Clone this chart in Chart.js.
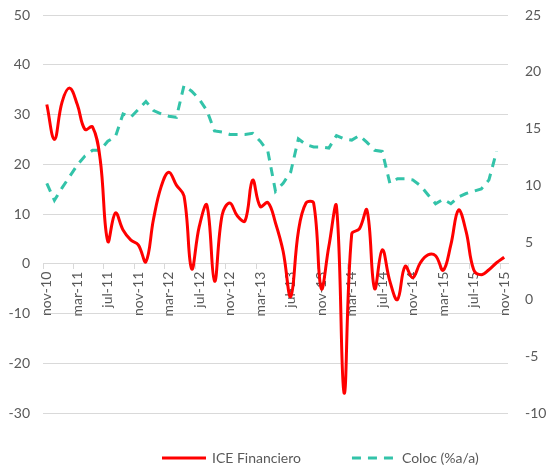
<!DOCTYPE html>
<html>
<head>
<meta charset="utf-8">
<script src="https://cdn.jsdelivr.net/npm/chart.js@4.4.0/dist/chart.umd.min.js"></script>
<style>
  body { margin: 0; background: #fff; }
  #wrap { width: 550px; height: 472px; }
</style>
</head>
<body>
<div id="wrap"><canvas id="chart"></canvas></div>
<script>
const months = [
  "nov-10","dic-10",
  "ene-11","feb-11","mar-11","abr-11","may-11","jun-11","jul-11","ago-11","sep-11","oct-11","nov-11","dic-11",
  "ene-12","feb-12","mar-12","abr-12","may-12","jun-12","jul-12","ago-12","sep-12","oct-12","nov-12","dic-12",
  "ene-13","feb-13","mar-13","abr-13","may-13","jun-13","jul-13","ago-13","sep-13","oct-13","nov-13","dic-13",
  "ene-14","feb-14","mar-14","abr-14","may-14","jun-14","jul-14","ago-14","sep-14","oct-14","nov-14","dic-14",
  "ene-15","feb-15","mar-15","abr-15","may-15","jun-15","jul-15","ago-15","sep-15","oct-15","nov-15"
];

// ICE Financiero (eje izquierdo)
const iceFinanciero = [
  32, 25, 32.5, 35.3, 32, 27, 27.5, 21, 4.5, 10.2,
  6.8, 4.8, 3.8, 0.4, 9, 15.5, 18.4, 15.8, 13.6, -1,
  7.5, 11.8, -3.5, 9.8, 12.2, 9.6, 8.6, 16.8, 11.5, 12.3,
  8.2, 2.5, -6.6, 6.5, 12.2, 12.2, -5, 3.5, 11.5, -26,
  6, 7, 10.8, -5, 2.8, -3.5, -7.2, -0.5, -2.8, 0.2,
  1.8, 1.6, -1.3, 3.8, 10.8, 6.5, -1.2, -2.2, -1.2, 0.2,
  1.3
];

// Coloc (%a/a) (eje derecho)
const coloc = [
  10.2, 8.7, 9.8, 10.8, 11.8, 12.6, 13.1, 13.1, 13.9, 14.3,
  16.3, 16.0, 16.7, 17.4, 16.6, 16.3, 16.1, 16.0, 18.8, 18.3,
  17.6, 16.6, 14.8, 14.7, 14.5, 14.5, 14.5, 14.6, 13.9, 13.0,
  9.5, 10.2, 11.2, 14.1, 13.6, 13.4, 13.4, 13.3, 14.4, 14.1,
  14.0, 14.4, 13.8, 13.1, 13.0, 10.2, 10.6, 10.6, 10.5, 10.0,
  9.2, 8.4, 8.8, 8.4, 9.0, 9.3, 9.5, 9.7, 10.5, 13.0,
  null
];

const grey = "#595959";
const gridGrey = "#d9d9d9";
const clear = "rgba(0,0,0,0)";

Chart.defaults.font.family = "Lato";
Chart.defaults.font.size = 14;
Chart.defaults.color = grey;

// legend drawn as line samples under the plot
const lineLegend = {
  id: "lineLegend",
  afterDraw(chart){
    const ctx = chart.ctx;
    const y = 458;
    let x = 162;
    ctx.save();
    ctx.font = "14px Lato";
    ctx.textBaseline = "middle";
    chart.data.datasets.forEach(ds=>{
      ctx.strokeStyle = ds.borderColor;
      ctx.lineWidth = ds.borderWidth;
      ctx.setLineDash(ds.borderDash || []);
      ctx.beginPath();
      ctx.moveTo(x, y);
      ctx.lineTo(x + 44, y);
      ctx.stroke();
      ctx.setLineDash([]);
      ctx.fillStyle = grey;
      ctx.fillText(ds.label, x + 50, y);
      x += 50 + ctx.measureText(ds.label).width + 51;
    });
    ctx.restore();
  }
};

new Chart(document.getElementById("chart"), {
  type: "line",
  data: {
    labels: months,
    datasets: [
      {
        label: "ICE Financiero",
        data: iceFinanciero,
        yAxisID: "y",
        borderColor: "#ff0000",
        borderWidth: 3,
        tension: 0.4,
        pointRadius: 0
      },
      {
        label: "Coloc (%a/a)",
        data: coloc,
        yAxisID: "y2",
        borderColor: "#33c3a9",
        borderWidth: 3,
        borderDash: [9, 7],
        tension: 0,
        pointRadius: 0
      }
    ]
  },
  options: {
    responsive: true,
    maintainAspectRatio: false,
    animation: false,
    layout: { padding: { top: 15, bottom: 59, left: 0, right: 0 } },
    plugins: {
      legend: { display: false },
      tooltip: { enabled: false }
    },
    scales: {
      x: {
        type: "category",
        position: { y: 0 },
        offset: true,
        grid: {
          offset: true,
          drawOnChartArea: false,
          drawTicks: true,
          tickLength: 5,
          tickColor: c => (c.index % 4 === 0 ? gridGrey : clear)
        },
        border: { display: true, color: gridGrey },
        ticks: {
          autoSkip: false,
          minRotation: 90,
          maxRotation: 90,
          padding: 3,
          callback: (v, i) => (i % 4 === 0 ? months[i] : "")
        }
      },
      y: {
        position: "left",
        min: -30,
        max: 50,
        // the gap to the labels comes from an invisible tick mark
        ticks: { stepSize: 10, padding: 0 },
        grid: { color: gridGrey, drawTicks: true, tickLength: 13, tickColor: clear },
        border: { display: false },
        afterFit: s => { s.width = 43; }
      },
      y2: {
        position: "right",
        min: -10,
        max: 25,
        ticks: { stepSize: 5, padding: 0 },
        grid: { drawOnChartArea: false, drawTicks: true, tickLength: 17, tickColor: clear },
        border: { display: false },
        afterFit: s => { s.width = 42; }
      }
    }
  },
  plugins: [lineLegend]
});
</script>
</body>
</html>
